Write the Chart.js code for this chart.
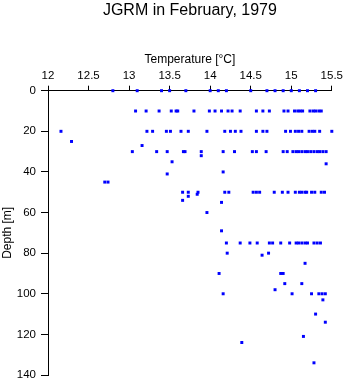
<!DOCTYPE html>
<html>
<head>
<meta charset="utf-8">
<script src="https://cdn.jsdelivr.net/npm/chart.js@4/dist/chart.umd.min.js"></script>
<style>
  html, body { margin: 0; padding: 0; background: #fff; }
</style>
</head>
<body>
<canvas id="profileChart" width="346" height="384"></canvas>
<script>
// -------------------------------
// DATA: temperature (°C) by depth (m)
// -------------------------------

// standard sampling depths and the temperatures read at each
const DEPTH_LEVELS = [0, 10, 20, 30, 50, 75, 100];
const temp0 = [12.80, 13.10, 13.40, 13.50, 13.70, 14.00, 14.10, 14.20, 14.50, 14.70, 14.80, 14.90, 15.00, 15.10, 15.20, 15.30];
const temp10 = [13.08, 13.21, 13.37, 13.52, 13.58, 13.60, 13.80, 13.99, 14.06, 14.14, 14.22, 14.27, 14.37, 14.57, 14.65, 14.73, 14.91, 14.96, 15.04, 15.08, 15.11, 15.14, 15.23, 15.27, 15.30, 15.34, 15.37];
const temp20 = [12.16, 13.22, 13.29, 13.46, 13.51, 13.64, 13.73, 13.96, 14.18, 14.25, 14.31, 14.38, 14.57, 14.65, 14.70, 14.93, 14.99, 15.05, 15.09, 15.13, 15.22, 15.26, 15.29, 15.35, 15.50];
const temp30 = [13.04, 13.34, 13.47, 13.67, 13.69, 13.89, 14.16, 14.30, 14.52, 14.57, 14.69, 14.90, 14.95, 15.02, 15.06, 15.09, 15.13, 15.17, 15.20, 15.24, 15.28, 15.32, 15.35, 15.39, 15.43];
const temp50 = [13.66, 13.73, 13.85, 14.18, 14.23, 14.53, 14.57, 14.61, 14.79, 14.89, 14.96, 15.05, 15.10, 15.13, 15.17, 15.19, 15.25, 15.29, 15.37, 15.41];
const temp75 = [14.20, 14.37, 14.49, 14.58, 14.73, 14.77, 14.87, 14.98, 15.06, 15.09, 15.13, 15.17, 15.20, 15.28, 15.32, 15.36];
const temp100 = [14.16, 15.01, 15.25, 15.34, 15.38, 15.42];
const TEMP_LEVELS = [temp0, temp10, temp20, temp30, temp50, temp75, temp100];

// the other single readings
const extraDepths = [25, 27, 32, 35, 36, 40, 41, 45, 45, 51, 52, 54, 55, 60, 69, 80, 80, 81, 85, 90, 90, 90, 95, 95, 98, 103, 110, 114, 121, 124, 134];
const extraTemps = [12.29, 13.16, 13.89, 13.53, 15.43, 14.16, 13.47, 12.70, 12.74, 13.84, 13.73, 13.66, 14.14, 13.96, 14.14, 14.21, 14.72, 14.64, 15.17, 14.11, 14.87, 14.90, 14.92, 15.13, 14.80, 15.39, 15.30, 15.42, 15.15, 14.39, 15.28];

const X_TICKS = [12, 12.5, 13, 13.5, 14, 14.5, 15, 15.5];
const Y_TICKS = [0, 20, 40, 60, 80, 100, 120, 140];

const FONT = "'Liberation Sans', Arial, Helvetica, sans-serif";

// build the point list
const points = [];
DEPTH_LEVELS.forEach((d, i) => {
  TEMP_LEVELS[i].forEach(t => points.push({ x: t, y: d }));
});
extraDepths.forEach((d, i) => points.push({ x: extraTemps[i], y: d }));

// -------------------------------
// CHART
// -------------------------------
const ctx = document.getElementById('profileChart').getContext('2d');

new Chart(ctx, {
  type: 'scatter',
  data: {
    datasets: [{
      data: points,
      pointStyle: 'rect',
      pointRadius: 2.1,
      pointHoverRadius: 2.1,
      borderWidth: 0,
      backgroundColor: '#0000ff',
      clip: false
    }]
  },
  options: {
    responsive: false,
    animation: false,
    events: [],
    layout: {
      padding: { top: 0, left: 0, right: 14, bottom: 9 }
    },
    plugins: {
      legend: { display: false },
      tooltip: { enabled: false },
      title: {
        display: true,
        fullSize: false, // centred over the plot area
        text: 'JGRM in February, 1979',
        color: '#000',
        font: { family: FONT, size: 16, weight: 'normal' },
        padding: { top: 1, bottom: 29.5 }
      }
    },
    scales: {
      x: {
        type: 'linear',
        position: 'top',
        min: X_TICKS[0],
        max: X_TICKS[X_TICKS.length - 1],
        afterBuildTicks: scale => { scale.ticks = X_TICKS.map(v => ({ value: v })); },
        afterFit: scale => { scale.height = 41; },
        ticks: {
          color: '#000',
          padding: 3,
          maxRotation: 0,
          font: { family: FONT, size: 11.5 },
          callback: v => String(v)
        },
        grid: { drawOnChartArea: false, drawTicks: true, tickLength: 5, color: '#000', tickColor: '#000' },
        border: { display: true, color: '#000', width: 1 },
        title: {
          display: true,
          text: 'Temperature [°C]',
          color: '#000',
          font: { family: FONT, size: 12 },
          padding: { top: 3, bottom: 0 }
        }
      },
      y: {
        type: 'linear',
        reverse: true,
        min: Y_TICKS[0],
        max: Y_TICKS[Y_TICKS.length - 1],
        afterBuildTicks: scale => { scale.ticks = Y_TICKS.map(v => ({ value: v })); },
        afterFit: scale => {
          scale.width = 48;
          scale.paddingBottom = 0; // let the layout padding alone set the bottom
        },
        ticks: {
          color: '#000',
          padding: 5,
          font: { family: FONT, size: 11.5 },
          callback: v => String(v)
        },
        grid: { drawOnChartArea: false, drawTicks: true, tickLength: 7, color: '#000', tickColor: '#000' },
        border: { display: true, color: '#000', width: 1 },
        title: {
          display: true,
          text: 'Depth [m]',
          color: '#000',
          font: { family: FONT, size: 12 },
          padding: { top: 0, bottom: 0 }
        }
      }
    }
  }
});
</script>
</body>
</html>
